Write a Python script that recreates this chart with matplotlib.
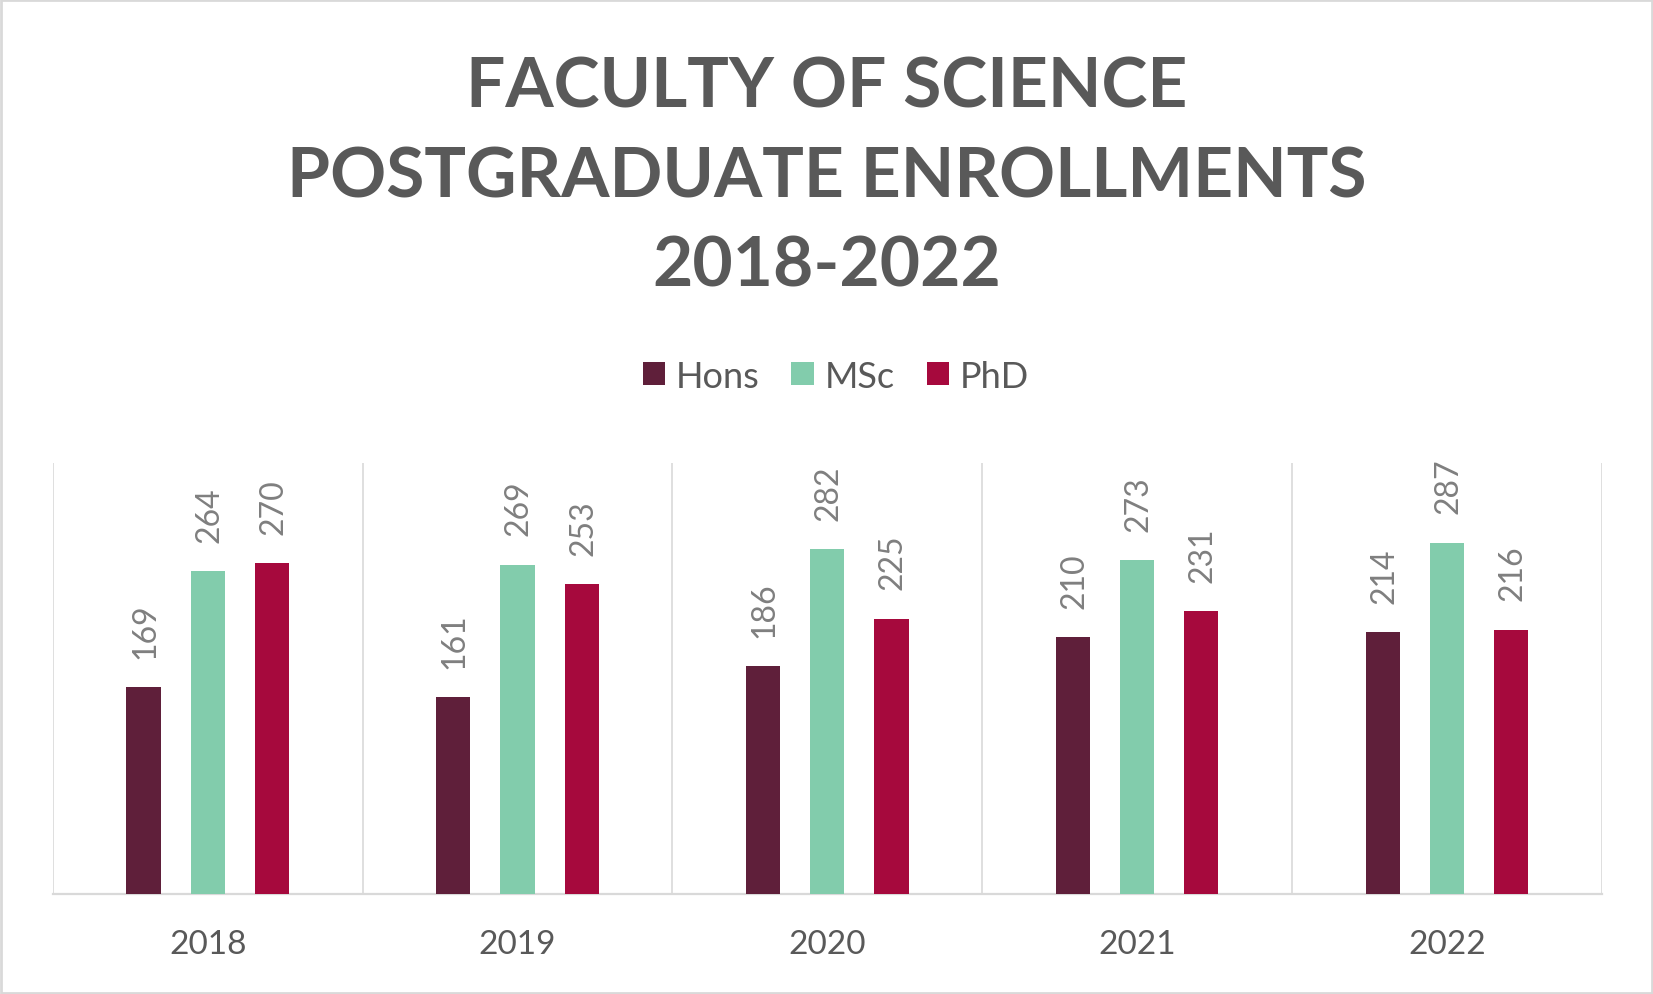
import matplotlib
matplotlib.use("Agg")
import matplotlib.pyplot as plt
from matplotlib.patches import Rectangle, Patch
import numpy as np

years = ["2018", "2019", "2020", "2021", "2022"]
series_names = ["Hons", "MSc", "PhD"]
hons = [169, 161, 186, 210, 214]
msc = [264, 269, 282, 273, 287]
phd = [270, 253, 225, 231, 216]
colors = ["#5F1F3A", "#82CCAC", "#A6093D"]

title_lines = ["FACULTY OF SCIENCE", "POSTGRADUATE ENROLLMENTS", "2018-2022"]

plt.rcParams['font.family'] = ['Lato', 'DejaVu Sans']

fig = plt.figure(figsize=(16.53, 9.95), dpi=100)
fig.patch.set_facecolor("white")

W, H = 1653, 995
ax_left, ax_right, ax_bottom, ax_top = 52.7, 1602, 895, 464
ax = fig.add_axes([ax_left / W, 1 - ax_bottom / H, (ax_right - ax_left) / W, (ax_bottom - ax_top) / H])

x = np.arange(len(years))
bw = 0.11
offs = [-0.207, 0.0, 0.207]
for vals, c, o in zip([hons, msc, phd], colors, offs):
    bars = ax.bar(x + o, vals, width=bw, color=c, zorder=3)
    for b, v in zip(bars, vals):
        ax.annotate(str(v), (b.get_x() + b.get_width() / 2, v), xytext=(1, 21),
                    textcoords="offset points", rotation=90, ha="center", va="bottom",
                    fontsize=23, color="#7F7F7F")

ax.set_xlim(-0.5, len(years) - 0.5)
ax.set_ylim(0, 352)
for gx in np.arange(-0.5, len(years), 1.0):
    ax.axvline(gx, color="#D9D9D9", lw=1.2, zorder=1)
for s in ["top", "right", "left"]:
    ax.spines[s].set_visible(False)
ax.spines["bottom"].set_color("#D9D9D9")
ax.spines["bottom"].set_linewidth(1.6)
ax.set_yticks([])
ax.set_xticks(x)
ax.set_xticklabels(years, fontsize=24, color="#595959")
ax.tick_params(axis="x", length=0, pad=25)

# title
ys = [88, 178, 267]
for line, yy in zip(title_lines, ys):
    fig.text(0.5, 1 - yy / H, line, ha="center", va="center", fontsize=50,
             fontweight="bold", color="#595959")

# legend
handles = [Patch(facecolor=c, edgecolor="none") for c in colors]
fig.legend(handles, series_names, loc="center", bbox_to_anchor=(0.5057, 1 - 377 / H),
           ncol=3, frameon=False, fontsize=26, labelcolor="#595959",
           handlelength=0.62, handleheight=0.62, handletextpad=0.3, columnspacing=0.88)

# figure border
fig.patches.append(Rectangle((0.0005, 0.0008), 0.999, 0.9985, transform=fig.transFigure,
                             fill=False, edgecolor="#D9D9D9", lw=2))

fig.savefig("out.png", dpi=100, facecolor="white")
